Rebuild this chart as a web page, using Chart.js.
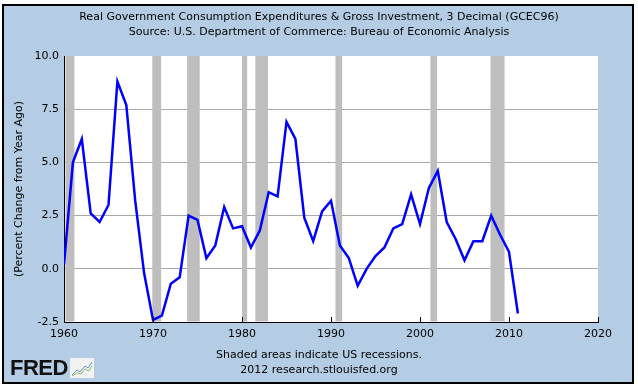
<!DOCTYPE html>
<html><head><meta charset="utf-8">
<script src="https://cdn.jsdelivr.net/npm/chart.js@4/dist/chart.umd.min.js"></script>
<style>
html,body{margin:0;padding:0;background:#fff;}
#frame{position:absolute;left:2px;top:4px;width:628px;height:376px;border:2px solid #000;background:#b4cde4;}
#wrap{position:absolute;left:0;top:0;width:638px;height:388px;}
#logo{position:absolute;left:10px;top:357px;height:22px;display:flex;align-items:center;}
#logo span{font-family:"Liberation Sans",Arial,sans-serif;font-weight:bold;font-size:22px;color:#111;letter-spacing:-0.5px;}
</style></head><body>
<div id="frame"></div>
<div id="wrap"><canvas id="c" width="638" height="388"></canvas></div>
<div id="logo"><span>FRED</span><svg width="24" height="20" style="margin-left:2px"><rect x="0" y="0" width="24" height="20" fill="#f2f2f2"/><polyline points="2,17 7,12 10,14 15,8 18,10 22,4" fill="none" stroke="#6a8fc4" stroke-width="1"/><polyline points="2,18 7,15 11,16 15,11 19,13 22,8" fill="none" stroke="#8cbf6a" stroke-width="1"/></svg></div>
<script>
// ---- data ----
const years = [1960,1961,1962,1963,1964,1965,1966,1967,1968,1969,
  1970,1971,1972,1973,1974,1975,1976,1977,1978,1979,
  1980,1981,1982,1983,1984,1985,1986,1987,1988,1989,
  1990,1991,1992,1993,1994,1995,1996,1997,1998,1999,
  2000,2001,2002,2003,2004,2005,2006,2007,2008,2009,
  2010,2011];
const pctChange = [0.2,5.0,6.1,2.6,2.2,3.0,8.8,7.7,3.2,-0.2,
  -2.4,-2.2,-0.7,-0.4,2.5,2.3,0.5,1.1,2.9,1.9,
  2.0,1.0,1.8,3.6,3.4,6.9,6.1,2.4,1.3,2.7,
  3.2,1.1,0.5,-0.8,0.0,0.6,1.0,1.9,2.1,3.5,
  2.1,3.8,4.6,2.2,1.4,0.4,1.3,1.3,2.5,1.6,
  0.8,-2.1];
const recessionStart = [1960.17,1969.92,1973.83,1980.0,1981.5,1990.5,2001.17,2007.92];
const recessionEnd   = [1961.17,1970.92,1975.25,1980.58,1982.92,1991.25,2001.92,2009.5];
const yTicks = [-2.5,0.0,2.5,5.0,7.5,10.0];
const xTicks = [1960,1970,1980,1990,2000,2010,2020];
const titleLines = ['Real Government Consumption Expenditures & Gross Investment, 3 Decimal (GCEC96)',
  'Source: U.S. Department of Commerce: Bureau of Economic Analysis'];
const footerLines = ['Shaded areas indicate US recessions.','2012 research.stlouisfed.org'];
const yTitle = '(Percent Change from Year Ago)';

const FONT = {family:'"DejaVu Sans", Verdana, sans-serif', size:11, weight:'normal', lineHeight:15/11};

const recessionPlugin = {
  id:'recessions',
  beforeDraw(chart){
    const {ctx, chartArea:a} = chart;
    ctx.save();
    ctx.fillStyle = '#fff';
    ctx.fillRect(a.left, a.top, a.right-a.left, a.bottom-a.top);
    ctx.restore();
  },
  beforeDatasetsDraw(chart){
    const {ctx, chartArea:a, scales:{x}} = chart;
    ctx.save();
    ctx.fillStyle = '#bebebe';
    for (let i=0;i<recessionStart.length;i++){
      const x0 = x.getPixelForValue(recessionStart[i]);
      const x1 = x.getPixelForValue(recessionEnd[i]);
      ctx.fillRect(x0, a.top, x1-x0, a.bottom-a.top-0.5);
    }
    ctx.restore();
  },
  afterDatasetsDraw(chart){
    const {ctx, chartArea:a, scales:{x}} = chart;
    ctx.save();
    ctx.strokeStyle = '#000';
    ctx.lineWidth = 1;
    xTicks.forEach(v=>{
      const px = Math.round(x.getPixelForValue(v))+0.5;
      ctx.beginPath(); ctx.moveTo(px, a.bottom); ctx.lineTo(px, a.bottom-5); ctx.stroke();
    });
    ctx.restore();
  }
};

new Chart(document.getElementById('c'), {
  type:'line',
  data:{datasets:[{
    data: years.map((y,i)=>({x:y, y:pctChange[i]})),
    borderColor:'#0000ff', borderWidth:2.5, pointRadius:0, tension:0, fill:false
  }]},
  options:{
    responsive:false, animation:false,
    layout:{padding:0},
    plugins:{
      legend:{display:false}, tooltip:{enabled:false},
      title:{display:true, text:titleLines, color:'#000', font:FONT, padding:{top:9.5,bottom:16.5}},
      subtitle:{display:true, position:'bottom', text:footerLines, color:'#000', font:FONT, padding:{top:3.5,bottom:10.5}}
    },
    scales:{
      x:{type:'linear', min:1960, max:2020,
        afterBuildTicks(s){ s.ticks = xTicks.map(v=>({value:v})); },
        ticks:{callback:v=>String(v), color:'#000', font:FONT, padding:5, maxRotation:0, autoSkip:false},
        grid:{display:false, drawTicks:false},
        border:{display:true, color:'#000', width:1},
        afterFit(s){ s.height = 22; }
      },
      y:{min:-2.5, max:10,
        afterBuildTicks(s){ s.ticks = yTicks.map(v=>({value:v})); },
        ticks:{callback:v=>v.toFixed(1), color:'#000', font:FONT, padding:5},
        grid:{drawTicks:false, lineWidth:1,
          color:c=> (c.tick && c.tick.value>-2.5 && c.tick.value<10) ? '#a8a8a8' : 'rgba(0,0,0,0)'},
        border:{display:true, color:'#000', width:1},
        title:{display:true, text:yTitle, color:'#000', font:FONT, padding:{top:12,bottom:0}},
        afterFit(s){ s.width = 64; }
      },
      y2:{position:'right', display:true,
        grid:{display:false, drawTicks:false}, ticks:{display:false}, border:{display:false},
        afterFit(s){ s.width = 40; }
      }
    }
  },
  plugins:[recessionPlugin]
});
</script>
</body></html>
